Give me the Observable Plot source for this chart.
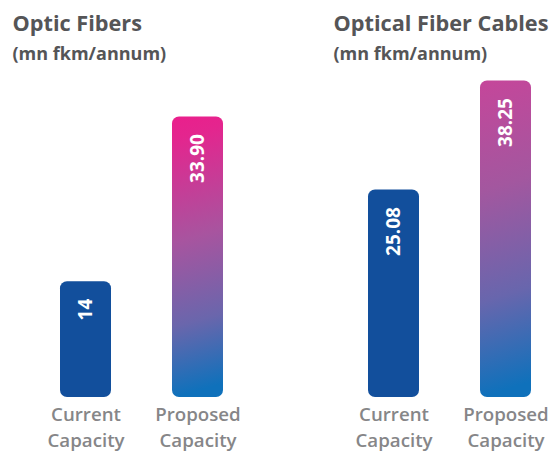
<!DOCTYPE html>
<html>
<head>
<meta charset="utf-8">
<script src="https://cdn.jsdelivr.net/npm/d3@7"></script>
<script src="https://cdn.jsdelivr.net/npm/@observablehq/plot@0.6"></script>
<style>
  html, body { margin: 0; padding: 0; background: #fff; }
  svg { display: block; }
</style>
</head>
<body>
<div id="chart"></div>
<script>
const panels = ["Optic Fibers", "Optical Fiber Cables"];
const units = ["(mn fkm/annum)", "(mn fkm/annum)"];
const categories = ["Current Capacity", "Proposed Capacity"];
const currentValues = [14, 25.08];
const proposedValues = [33.90, 38.25];
const currentLabels = ["14", "25.08"];
const proposedLabels = ["33.90", "38.25"];

const rows = [];
panels.forEach((p, i) => {
  rows.push({panel: p, idx: i, category: categories[0], value: currentValues[i], label: currentLabels[i]});
  rows.push({panel: p, idx: i, category: categories[1], value: proposedValues[i], label: proposedLabels[i]});
});
const titles = panels.map((p, i) => ({panel: p, idx: i, title: p, unit: units[i]}));

const titleDx = [-31, -18];
const titleMarks = [];
titles.forEach((t, i) => {
  titleMarks.push(Plot.text([t], {fx: "panel", text: "title", frameAnchor: "top-left", textAnchor: "start", lineAnchor: "top",
    dx: titleDx[i], dy: -62, fontSize: 21.7, fontWeight: 700, fill: "#555557"}));
  titleMarks.push(Plot.text([t], {fx: "panel", text: "unit", frameAnchor: "top-left", textAnchor: "start", lineAnchor: "top",
    dx: titleDx[i], dy: -30, fontSize: 18, fontWeight: 700, fill: "#555557"}));
});

const chart = Plot.plot({
  width: 551,
  height: 456,
  marginTop: 77,
  marginBottom: 59,
  marginLeft: 42,
  marginRight: 3,
  style: {fontFamily: "'Open Sans', sans-serif", background: "#fff"},
  fx: {domain: panels, paddingInner: 0.362, paddingOuter: 0, axis: null, label: null},
  x: {domain: categories, paddingInner: 0.547, paddingOuter: 0.15, label: null},
  y: {domain: [0, 38.68], axis: null},
  marks: [
    Plot.barY(rows.filter(d => d.category === categories[0]), {fx: "panel", x: "category", y: "value", fill: "#124f9c", rx: 7}),
    Plot.barY(rows.filter(d => d.category === categories[1] && d.idx === 0), {fx: "panel", x: "category", y: "value", fill: "url(#gradP0)", rx: 7}),
    Plot.barY(rows.filter(d => d.category === categories[1] && d.idx === 1), {fx: "panel", x: "category", y: "value", fill: "url(#gradP1)", rx: 7}),
    Plot.text(rows, {fx: "panel", x: "category", y: "value", text: "label", rotate: -90, textAnchor: "end", lineAnchor: "middle",
      dy: 17, fill: "white", fontSize: 19, fontWeight: 700}),
    Plot.axisX({tickSize: 0, tickPadding: 5, fontSize: 18.7, fontWeight: 600, fill: "#868688", lineHeight: 1.4,
      tickFormat: d => d.replace(" ", "\n")}),
    ...titleMarks
  ]
});

const defs = d3.select(chart).insert("defs", ":first-child");
const g0 = defs.append("linearGradient").attr("id", "gradP0").attr("x1", 0).attr("y1", 0).attr("x2", 0.05).attr("y2", 1);
[[0, "#ea1f8c"], [0.08, "#e4258e"], [0.45, "#a8549f"], [0.75, "#6a66ac"], [1, "#0f71bb"]].forEach(([o, c]) =>
  g0.append("stop").attr("offset", o).attr("stop-color", c));
const g1 = defs.append("linearGradient").attr("id", "gradP1").attr("x1", 0).attr("y1", 0).attr("x2", 0.05).attr("y2", 1);
[[0, "#c5469a"], [0.35, "#a3579f"], [0.7, "#6866ad"], [1, "#0f71bb"]].forEach(([o, c]) =>
  g1.append("stop").attr("offset", o).attr("stop-color", c));

document.getElementById("chart").appendChild(chart);
</script>
</body>
</html>
